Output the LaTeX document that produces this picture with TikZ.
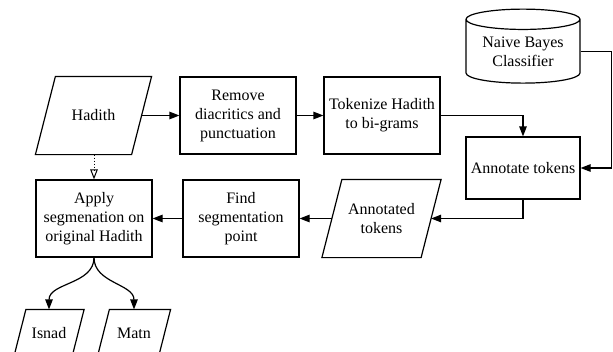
\documentclass[tikz,border=0pt]{standalone}
\usepackage{fontspec}
\setmainfont{Liberation Serif}
\usetikzlibrary{shapes.geometric,arrows.meta}

\begin{document}
\begin{tikzpicture}[x=1pt, y=-1pt, >={Triangle[length=10pt,width=7.5pt]},
    every node/.style={font=\fontsize{16}{19}\selectfont, align=center, line width=1.2pt},
    process/.style={draw, rectangle, minimum width=116pt, minimum height=77pt, inner sep=0pt},
    data/.style={rectangle, minimum width=115pt, minimum height=77pt, inner sep=0pt},
    store/.style={draw, cylinder, shape border rotate=90, aspect=0.25,
        minimum width=114pt, minimum height=74pt, inner sep=0pt}]
    \useasboundingbox (0,0) rectangle (613,351);

    % Nodes of the pipeline
    \node[data] (hadith) at (93.5, 115.5) {Hadith};
    \node[process] (remove) at (238, 115.5) {Remove\\diacritics and\\punctuation};
    \node[process] (tokenize) at (382, 115.5) {Tokenize Hadith\\to bi-grams};
    \node[store] (bayes) at (523, 51.5) {Naive Bayes\\Classifier};
    \node[process, minimum width=114pt, minimum height=62pt] (annotate) at (523, 168) {Annotate tokens};
    \node[data, minimum width=118pt] (annotated) at (381.5, 218.5) {Annotated\\tokens};
    \node[process] (find) at (241, 218.5) {Find\\segmentation\\point};
    \node[process] (apply) at (94, 218.5) {Apply\\segmenation on\\original Hadith};
    \node[data, minimum width=69pt, minimum height=46pt] (isnad) at (49, 333) {Isnad};
    \node[data, minimum width=72pt, minimum height=46pt] (matn) at (134, 333) {Matn};

    % Slanted outlines of the data nodes
    \foreach \n/\s in {hadith/20, annotated/20, isnad/12, matn/12}
        \draw[line width=1.2pt] ([xshift=\s pt]\n.north west) -- (\n.north east)
            -- ([xshift=-\s pt]\n.south east) -- (\n.south west) -- cycle;

    % Edges
    \draw[->, line width=1.2pt] ([xshift=-10pt]hadith.east) -- (remove);
    \draw[->, line width=1.2pt] (remove) -- (tokenize);
    \draw[->, line width=1.2pt] (tokenize.east) -| (annotate.north);
    \draw[->, line width=1.2pt] (bayes.east) -- ++(31, 0) |- (annotate.east);
    \draw[->, line width=1.2pt] (annotate.south) |- ([xshift=-10pt]annotated.east);
    \draw[->, line width=1.2pt] ([xshift=10pt]annotated.west) -- (find);
    \draw[->, line width=1.2pt] (find) -- (apply);
    \draw[-{Triangle[open,length=10pt,width=7.5pt]}, line width=1pt, dotted] (apply.north |- hadith.south) -- (apply.north);
    \draw[->, line width=1.2pt] (apply.south) to[out=-90, in=90] (isnad.north);
    \draw[->, line width=1.2pt] (apply.south) to[out=-90, in=90] (matn.north);
\end{tikzpicture}
\end{document}
